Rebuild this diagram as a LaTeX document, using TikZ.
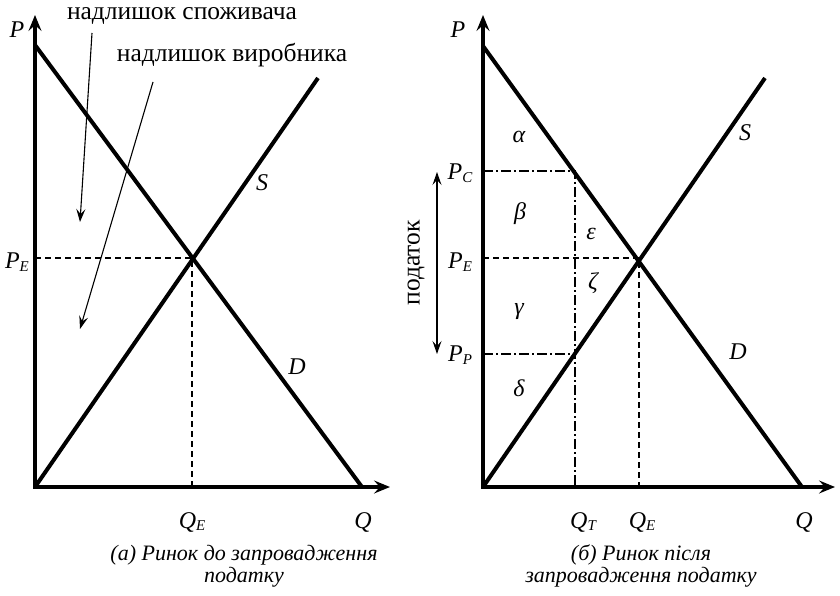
\documentclass[tikz,border=0pt]{standalone}
\usepackage{fontspec}
\setmainfont{Liberation Serif}
\usetikzlibrary{arrows.meta}
\newcommand{\msub}[2]{#1\raisebox{-0.25ex}{\fontsize{15}{15}\selectfont #2}}
\begin{document}
\begin{tikzpicture}[x=1pt,y=-1pt,
  axis/.style={line width=3.6pt, -{Stealth[length=16pt,width=13pt,inset=6pt]}},
  curve/.style={line width=4pt},
  guide/.style={line width=1.4pt, dash pattern=on 6pt off 4pt},
  guidedd/.style={line width=1.4pt, dash pattern=on 10pt off 3pt on 2pt off 3pt},
  pointer/.style={line width=1.1pt, -{Stealth[length=13pt,width=9pt,inset=5pt]}},
  dpointer/.style={line width=1.1pt, {Stealth[length=13pt,width=9pt,inset=5pt]}-{Stealth[length=13pt,width=9pt,inset=5pt]}},
  lbl/.style={font=\fontsize{24}{26}\selectfont\itshape, inner sep=0pt},
  txt/.style={font=\fontsize{25.5}{27}\selectfont, inner sep=0pt},
  captext/.style={font=\fontsize{22}{22}\selectfont\itshape, align=center, inner sep=0pt}]
\useasboundingbox (0,0) rectangle (840,596);

% ---------- left panel ----------
\coordinate (LO) at (35,487);
\coordinate (LPtop) at (35,15);
\coordinate (LQend) at (390,487);
\coordinate (LDtop) at (35,45);
\coordinate (LDbot) at (362,487);
\coordinate (LStop) at (318,78);
\coordinate (LE) at (192,258);
\coordinate (LPE) at (35,258);
\coordinate (LQE) at (192,487);

\draw[guide] (LPE) -- (LE) -- (LQE);
\draw[curve] (LDtop) -- (LDbot);
\draw[curve] (LO) -- (LStop);
\draw[axis] (LO) -- (LPtop);
\draw[axis] ([xshift=-1.8pt]LO) -- (LQend);

\node[lbl] (lP) at (17,30) {P};
\node[lbl] (lPE) at (17,262) {\msub{P}{E}};
\node[lbl] (lS) at (262,183) {S};
\node[lbl] (lD) at (297,367) {D};
\node[lbl] (lQE) at (192,522) {\msub{Q}{E}};
\node[lbl] (lQ) at (363,522) {Q};

\node[txt, anchor=base] (cs) at (182,20) {надлишок споживача};
\node[txt] (ps) at (232,55) {надлишок виробника};
\coordinate (a1s) at (92,33);
\coordinate (a1e) at (80,222);
\coordinate (a2s) at (153,82);
\coordinate (a2e) at (80,329);
\draw[pointer] (a1s) -- (a1e);
\draw[pointer] (a2s) -- (a2e);

\node[captext] (capA) at (244,566) {(а) Ринок до запровадження\\податку};

% ---------- right panel ----------
\coordinate (RO) at (483,487);
\coordinate (RPtop) at (483,15);
\coordinate (RQend) at (835,487);
\coordinate (RDtop) at (483,46);
\coordinate (RDbot) at (802,487);
\coordinate (RStop) at (765,78);
\coordinate (RE) at (639,258);
\coordinate (RPE) at (483,258);
\coordinate (RQE) at (639,487);
\coordinate (RPC) at (483,171);
\coordinate (RC) at (575,171);
\coordinate (RPP) at (483,354);
\coordinate (RPp) at (575,354);
\coordinate (RQT) at (575,487);

\draw[guide] (RPE) -- (RE) -- (RQE);
\draw[guidedd] (RPC) -- (RC) -- (RQT);
\draw[guidedd] (RPP) -- (RPp);
\draw[curve] (RDtop) -- (RDbot);
\draw[curve] (RO) -- (RStop);
\draw[axis] (RO) -- (RPtop);
\draw[axis] ([xshift=-1.8pt]RO) -- (RQend);

\node[lbl] (rP) at (458,30) {P};
\node[lbl] (rPC) at (460,173) {\msub{P}{C}};
\node[lbl] (rPE) at (460,262) {\msub{P}{E}};
\node[lbl] (rPP) at (460,355) {\msub{P}{P}};
\node[lbl] (rS) at (745,133) {S};
\node[lbl] (rD) at (738,352) {D};
\node[lbl] (rQT) at (583,522) {\msub{Q}{T}};
\node[lbl] (rQE) at (642,522) {\msub{Q}{E}};
\node[lbl] (rQ) at (804,522) {Q};

\node[lbl] (alpha) at (519,137) {α};
\node[lbl] (beta) at (520,214) {β};
\node[lbl] (eps) at (591,234) {ε};
\node[lbl] (zeta) at (593,283) {ζ};
\node[lbl] (gamma) at (519,312) {γ};
\node[lbl] (delta) at (519,388) {δ};

\node[txt, rotate=90] (tax) at (416,263) {податок};
\coordinate (tt) at (437,172);
\coordinate (tb) at (437,354);
\draw[dpointer] (tt) -- (tb);

\node[captext] (capB) at (641,566) {(б) Ринок після\\запровадження податку};
\end{tikzpicture}
\end{document}
